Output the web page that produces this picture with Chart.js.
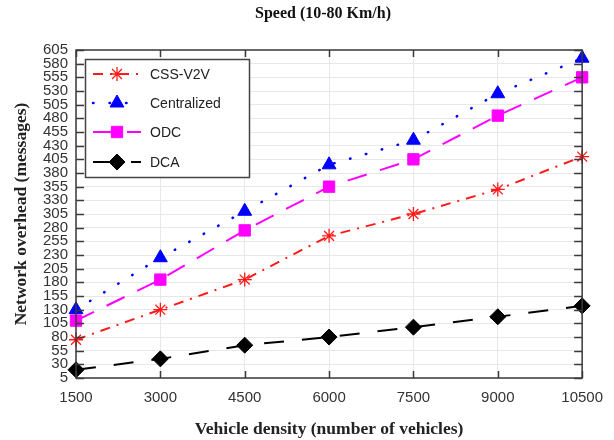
<!DOCTYPE html>
<html>
<head>
<meta charset="utf-8">
<script src="https://cdn.jsdelivr.net/npm/chart.js@4"></script>
<style>
  html, body { margin: 0; padding: 0; background: #fff; }
  #wrap { width: 614px; height: 440px; }
</style>
</head>
<body>
<div id="wrap"><canvas id="lineChart" width="614" height="440"></canvas></div>
<script>
var vehicles = [1500, 3000, 4500, 6000, 7500, 9000, 10500];
var cssV2V = [75, 130, 185, 265, 305, 350, 410];
var centralized = [130, 225, 310, 395, 440, 525, 590];
var odc = [110, 185, 275, 355, 405, 485, 555];
var dca = [20, 40, 65, 80, 98, 117, 137];

function pts(vals) {
    return vals.map(function (v, i) { return { x: vehicles[i], y: v }; });
}

var sansFont = "'Liberation Sans', Arial, sans-serif";
var serifFont = "'Liberation Serif', 'Times New Roman', serif";

// title, box, inner tick marks and the legend, MATLAB style
var boxPlugin = {
    id: 'boxPlugin',
    afterDraw: function (chart) {
        var c = chart.ctx, a = chart.chartArea;
        var xs = chart.scales.x, ys = chart.scales.y;
        c.save();
        c.fillStyle = '#111';
        c.font = 'bold 16px ' + serifFont;
        c.textAlign = 'center';
        c.textBaseline = 'middle';
        c.fillText('Speed (10-80 Km/h)', 323, 14);

        c.strokeStyle = '#3a3a3a';
        c.lineWidth = 1.5;
        xs.ticks.forEach(function (t) {
            var px = Math.round(xs.getPixelForValue(t.value)) + 0.5;
            c.beginPath();
            c.moveTo(px, a.bottom); c.lineTo(px, a.bottom - 7);
            c.moveTo(px, a.top); c.lineTo(px, a.top + 7);
            c.stroke();
        });
        ys.ticks.forEach(function (t) {
            var py = Math.round(ys.getPixelForValue(t.value)) + 0.5;
            c.beginPath();
            c.moveTo(a.left, py); c.lineTo(a.left + 8, py);
            c.moveTo(a.right, py); c.lineTo(a.right - 8, py);
            c.stroke();
        });
        c.strokeRect(a.left, a.top, a.right - a.left, a.bottom - a.top);

        // legend
        var lx = 85, ly = 59, lw = 164, lh = 118;
        c.fillStyle = '#fff';
        c.fillRect(lx, ly, lw, lh);
        c.lineWidth = 1.5;
        c.strokeStyle = '#444';
        c.strokeRect(lx + 0.5, ly + 0.5, lw, lh);
        var rows = [74, 103, 132, 162];
        chart.data.datasets.forEach(function (ds, i) {
            var y = rows[i];
            c.save();
            c.strokeStyle = ds.borderColor;
            c.lineWidth = ds.borderWidth;
            c.lineCap = ds.borderCapStyle || 'butt';
            c.setLineDash(ds.borderDash || []);
            c.beginPath();
            c.moveTo(93, y); c.lineTo(141, y);
            c.stroke();
            c.restore();
            c.save();
            c.fillStyle = ds.pointBackgroundColor;
            c.strokeStyle = ds.pointBorderColor;
            c.lineWidth = ds.pointBorderWidth;
            Chart.helpers.drawPoint(c, { pointStyle: ds.pointStyle, radius: ds.pointRadius, rotation: 0, borderWidth: ds.pointBorderWidth }, 117, y);
            c.restore();
            c.fillStyle = '#222';
            c.font = '14px ' + sansFont;
            c.textAlign = 'left';
            c.textBaseline = 'middle';
            c.fillText(ds.label, 150, y + 1);
        });
        c.restore();
    }
};

var ctx = document.getElementById('lineChart').getContext('2d');
var myChart = new Chart(ctx, {
    type: 'line',
    data: {
        datasets: [
            {
                label: 'CSS-V2V',
                data: pts(cssV2V),
                borderColor: '#ff1a1a',
                borderWidth: 2,
                borderDash: [10, 7, 2, 7],
                pointStyle: 'star',
                pointRadius: 7,
                pointBorderWidth: 1.3,
                pointBorderColor: '#ff1a1a',
                pointBackgroundColor: '#ff1a1a'
            },
            {
                label: 'Centralized',
                data: pts(centralized),
                borderColor: '#0000ff',
                borderWidth: 2.5,
                borderDash: [0.5, 16],
                borderCapStyle: 'round',
                pointStyle: 'triangle',
                pointRadius: 8,
                pointBorderWidth: 1,
                pointBorderColor: '#0000ff',
                pointBackgroundColor: '#0000ff'
            },
            {
                label: 'ODC',
                data: pts(odc),
                borderColor: '#ff00ff',
                borderWidth: 2,
                borderDash: [20, 14],
                pointStyle: 'rect',
                pointRadius: 8,
                pointBorderWidth: 1,
                pointBorderColor: '#ff00ff',
                pointBackgroundColor: '#ff00ff'
            },
            {
                label: 'DCA',
                data: pts(dca),
                borderColor: '#000000',
                borderWidth: 2,
                borderDash: [20, 18],
                pointStyle: 'rectRot',
                pointRadius: 8,
                pointBorderWidth: 1,
                pointBorderColor: '#000000',
                pointBackgroundColor: '#000000'
            }
        ]
    },
    options: {
        responsive: false,
        animation: false,
        clip: false,
        layout: { padding: { left: 0, right: 29, top: 50, bottom: 0 } },
        plugins: {
            legend: { display: false },
            tooltip: { enabled: false },
            title: { display: false }
        },
        scales: {
            x: {
                type: 'linear',
                min: 1500,
                max: 10500,
                afterFit: function (s) { s.height = 62; },
                ticks: {
                    stepSize: 1500,
                    color: '#333',
                    padding: 11,
                    font: { family: sansFont, size: 15 },
                    maxRotation: 0,
                    callback: function (v) { return String(v); }
                },
                grid: { color: '#e8e8e8', drawTicks: false },
                border: { display: false },
                title: {
                    display: true,
                    text: 'Vehicle density (number of vehicles)',
                    color: '#222',
                    font: { family: serifFont, size: 17.5, weight: 'bold', lineHeight: 1.2 },
                    padding: { top: 4, bottom: 0 }
                }
            },
            y: {
                min: 5,
                max: 605,
                afterFit: function (s) { s.width = 76; },
                ticks: {
                    stepSize: 25,
                    autoSkip: false,
                    color: '#333',
                    padding: 8,
                    font: { family: sansFont, size: 15, lineHeight: 0.9 }
                },
                grid: { color: '#e8e8e8', drawTicks: false },
                border: { display: false },
                title: {
                    display: true,
                    text: 'Network overhead (messages)',
                    color: '#222',
                    font: { family: serifFont, size: 17.5, weight: 'bold', lineHeight: 1.2 },
                    padding: { top: 11, bottom: 0 }
                }
            }
        }
    },
    plugins: [boxPlugin]
});
</script>
</body>
</html>
